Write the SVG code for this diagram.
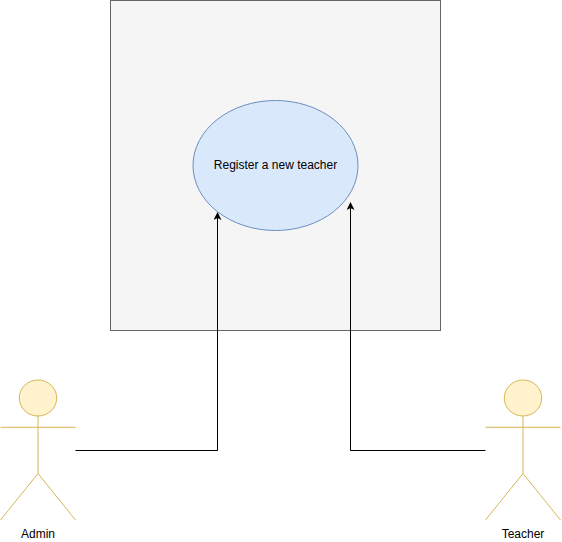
<svg xmlns="http://www.w3.org/2000/svg" width="562" height="542" viewBox="0 0 562 542">
<style>
.actor{fill:#fff2cc;stroke:#d6b656;stroke-width:1}
.line{fill:none;stroke:#d6b656;stroke-width:1}
.conn{fill:none;stroke:#000;stroke-width:1}
text{font-family:"Liberation Sans",Arial,sans-serif;font-size:12px;fill:#000;text-anchor:middle}
</style>
<defs><marker id="arrow" markerUnits="userSpaceOnUse" markerWidth="10" markerHeight="10" refX="5" refY="4" orient="auto"><path d="M0 0L8 4L0 8L2 4Z" fill="#000"/></marker></defs>
<rect width="562" height="542" fill="#fff"/>
<g id="system"><rect x="110.500" y="0.500" width="330" height="330" fill="#f5f5f5" stroke="#666"/></g>
<g id="usecase"><ellipse cx="275.500" cy="165.500" rx="82.500" ry="65" fill="#dae8fc" stroke="#6c8ebf"/><text x="275.500" y="169">Register a new teacher</text></g>
<g id="admin"><ellipse class="actor" cx="38" cy="398" rx="18.750" ry="18"/><path class="line" d="M38 416V473.500M0.500 427.300H75.500M38 473.500L0.500 520M38 473.500L75.500 520"/><text x="38" y="538">Admin</text></g>
<g id="teacher"><ellipse class="actor" cx="523" cy="398" rx="18.750" ry="18"/><path class="line" d="M523 416V473.500M485.500 427.300H560.500M523 473.500L485.500 520M523 473.500L560.500 520"/><text x="523" y="538">Teacher</text></g>
<g id="connectors"><path class="conn" marker-end="url(#arrow)" d="M75.500 450.500H217.500V215"/><path class="conn" marker-end="url(#arrow)" d="M485.500 450.500H350.500V205"/></g>
</svg>
